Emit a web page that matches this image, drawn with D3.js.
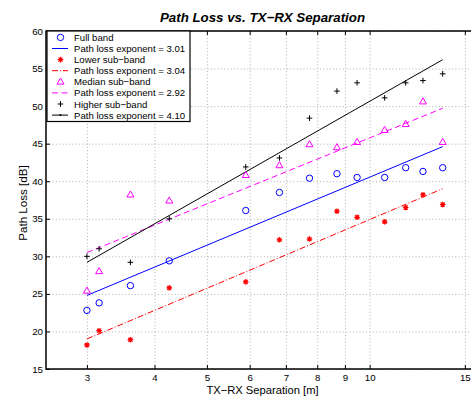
<!DOCTYPE html>
<html>
<head>
<meta charset="utf-8">
<script src="https://cdn.jsdelivr.net/npm/d3@7"></script>
<style>
  body { margin: 0; background: #fff; }
  svg { font-family: "Liberation Sans", Arial, sans-serif; }
  .grid line { stroke: #b0b0b0; stroke-dasharray: 1,2.3; }
  .grid .domain { display: none; }
  .axis .domain { display: none; }
  .axis line { stroke: #000; }
  .axis text { font-size: 9.7px; fill: #000; }
</style>
</head>
<body>
<div id="chart"></div>
<script>
const WIDTH = 471
const HEIGHT = 397
const LEFT = 46
const RIGHT = 480
const TOP = 31
const BOTTOM = 369

// data
const distances = [3, 3.16, 3.61, 4.26, 5.9, 6.81, 7.74, 8.7, 9.48, 10.66, 11.66, 12.55, 13.65]
const fullBand = [22.8, 23.8, 26.1, 29.4, 36.1, 38.5, 40.4, 41.0, 40.5, 40.5, 41.8, 41.3, 41.8]
const lowerBand = [18.2, 20.1, 18.9, 25.8, 26.6, 32.2, 32.3, 36.0, 35.2, 34.6, 36.5, 38.2, 36.9]
const medianBand = [25.4, 28.0, 38.2, 37.4, 40.8, 42.1, 44.9, 44.5, 45.2, 46.8, 47.6, 50.6, 45.2]
const higherBand = [30.0, 31.0, 29.2, 35.0, 41.9, 43.1, 48.4, 52.0, 53.1, 51.1, 53.1, 53.4, 54.3]

// fitted lines: loss at 3 m and path loss exponent
const fitStart = [24.8, 19.0, 30.5, 29.2]
const exponents = [3.01, 3.04, 2.92, 4.10]

const xTicks = [3, 4, 5, 6, 7, 8, 9, 10, 15]
const yTicks = [15, 20, 25, 30, 35, 40, 45, 50, 55, 60]
const seriesNames = ['Full band', 'Lower sub\u2212band', 'Median sub\u2212band', 'Higher sub\u2212band']

const main = _ => {
    const x = d3.scaleLog().domain([2.52, 16]).range([LEFT, RIGHT])
    const y = d3.scaleLinear().domain([15, 60]).range([BOTTOM, TOP])

    const svg = d3.select('#chart').append('svg')
        .attr('width', WIDTH)
        .attr('height', HEIGHT)

    // grid
    svg.append('g').attr('class', 'grid')
        .attr('transform', `translate(0, ${BOTTOM})`)
        .call(d3.axisBottom(x).tickValues(xTicks).tickSize(-(BOTTOM - TOP)).tickFormat(''))
    svg.append('g').attr('class', 'grid')
        .attr('transform', `translate(${LEFT}, 0)`)
        .call(d3.axisLeft(y).tickValues(yTicks).tickSize(-(RIGHT - LEFT)).tickFormat(''))

    // axes with inward ticks
    svg.append('g').attr('class', 'axis')
        .attr('transform', `translate(0, ${BOTTOM})`)
        .call(d3.axisBottom(x).tickValues(xTicks).tickSize(-4).tickPadding(5).tickFormat(d3.format('d')))
    svg.append('g').attr('class', 'axis')
        .attr('transform', `translate(0, ${TOP})`)
        .call(d3.axisTop(x).tickValues(xTicks).tickSize(-4).tickFormat(''))
    svg.append('g').attr('class', 'axis')
        .attr('transform', `translate(${LEFT}, 0)`)
        .call(d3.axisLeft(y).tickValues(yTicks).tickSize(-4).tickPadding(3))

    svg.append('rect')
        .attr('x', LEFT).attr('y', TOP)
        .attr('width', RIGHT - LEFT).attr('height', BOTTOM - TOP)
        .attr('fill', 'none').attr('stroke', '#000').attr('stroke-width', 1.5)

    // fit lines
    const lineStyles = [
        { color: '#0000ff', dash: null },
        { color: '#ff0000', dash: '6,2,1,2' },
        { color: '#ff00ff', dash: '6,3.5' },
        { color: '#000000', dash: null }
    ]
    const xEnds = [distances[0], distances[distances.length - 1]]
    const line = d3.line().x(d => x(d[0])).y(d => y(d[1]))

    fitStart.forEach((start, i) => {
        const pts = xEnds.map(d => [d, start + 10 * exponents[i] * Math.log10(d / xEnds[0])])
        svg.append('path')
            .attr('d', line(pts))
            .attr('fill', 'none')
            .attr('stroke', lineStyles[i].color)
            .attr('stroke-width', 1)
            .attr('stroke-dasharray', lineStyles[i].dash)
    })

    // markers
    const markers = {
        circle: g => g.append('circle').attr('r', 3.2).attr('fill', 'none').attr('stroke', '#0000ff'),
        star: g => g.append('path')
            .attr('d', 'M-2.8,0H2.8M0,-2.8V2.8M-2,-2L2,2M-2,2L2,-2')
            .attr('stroke', '#ff0000').attr('stroke-width', 1.2),
        triangle: g => g.append('path')
            .attr('d', 'M0,-3.8L3.5,2.3L-3.5,2.3Z')
            .attr('fill', 'none').attr('stroke', '#ff00ff'),
        plus: g => g.append('path')
            .attr('d', 'M-2.8,0H2.8M0,-2.8V2.8')
            .attr('stroke', '#000').attr('stroke-width', 1)
    }
    const seriesData = [fullBand, lowerBand, medianBand, higherBand]
    const markerKeys = ['circle', 'star', 'triangle', 'plus']

    seriesData.forEach((vals, i) => {
        svg.append('g').selectAll('g')
            .data(vals.map((v, j) => [distances[j], v]))
            .enter()
            .append('g')
            .attr('transform', d => `translate(${x(d[0])}, ${y(d[1])})`)
            .each(function () { markers[markerKeys[i]](d3.select(this)) })
    })

    // legend
    const legend = svg.append('g')
    legend.append('rect')
        .attr('x', 47).attr('y', 31)
        .attr('width', 143).attr('height', 90.5)
        .attr('fill', '#fff').attr('stroke', '#000').attr('stroke-width', 1.2)

    seriesNames.forEach((name, i) => {
        const y1 = 37.4 + i * 22.2
        const y2 = y1 + 11.1
        const m = legend.append('g').attr('transform', `translate(60.5, ${y1})`)
        markers[markerKeys[i]](m)
        legend.append('text').attr('x', 74).attr('y', y1 + 3.5)
            .attr('font-size', 9.6).text(name)

        legend.append('line')
            .attr('x1', 52).attr('x2', 68).attr('y1', y2).attr('y2', y2)
            .attr('stroke', lineStyles[i].color)
            .attr('stroke-dasharray', lineStyles[i].dash)
        if (i === 3) {
            legend.append('circle').attr('cx', 60.5).attr('cy', y2).attr('r', 1).attr('fill', '#000')
        }
        legend.append('text').attr('x', 74).attr('y', y2 + 3.5)
            .attr('font-size', 9.6).text(`Path loss exponent = ${exponents[i].toFixed(2)}`)
    })

    // titles
    svg.append('text')
        .attr('x', 262.5).attr('y', 22)
        .attr('text-anchor', 'middle')
        .attr('font-size', 13.3).attr('font-weight', 'bold').attr('font-style', 'italic')
        .text('Path Loss vs. TX\u2212RX Separation')

    svg.append('text')
        .attr('x', 262.5).attr('y', 394)
        .attr('text-anchor', 'middle')
        .attr('font-size', 11.2)
        .text('TX\u2212RX Separation [m]')

    svg.append('text')
        .attr('transform', 'translate(27, 203) rotate(-90)')
        .attr('text-anchor', 'middle')
        .attr('font-size', 11.6)
        .text('Path Loss [dB]')
}

document.addEventListener('DOMContentLoaded', main)
</script>
</body>
</html>
